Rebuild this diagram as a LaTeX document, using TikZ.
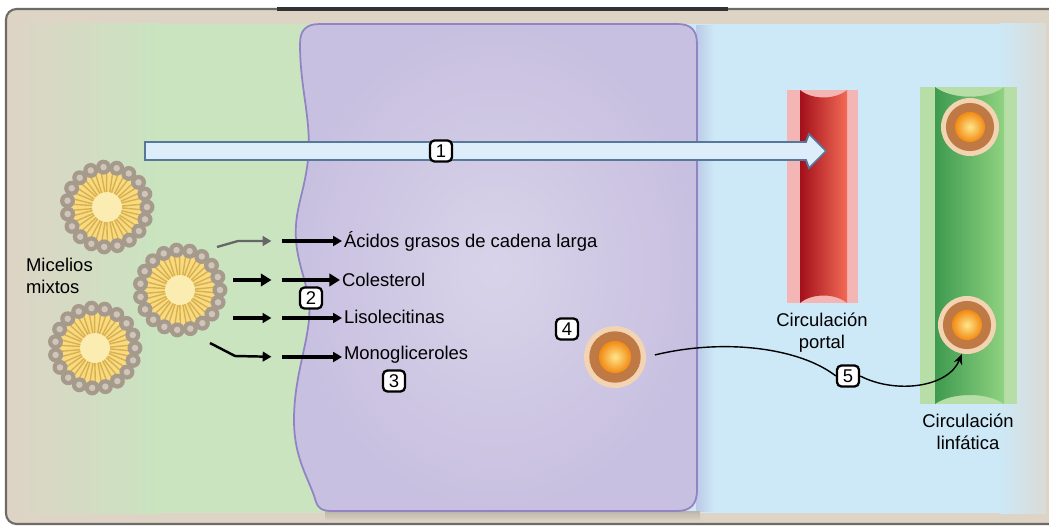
\documentclass[tikz,border=0pt]{standalone}
\usepackage{fontspec}
\setmainfont{Liberation Sans}
\usetikzlibrary{positioning,arrows.meta,calc}

\definecolor{fondo}{HTML}{DDD4C6}
\definecolor{marco}{HTML}{6E6A66}
\definecolor{verde}{HTML}{C9E4BF}
\definecolor{azul}{HTML}{CDE8F6}
\definecolor{gris}{HTML}{DADBD6}
\definecolor{celula}{HTML}{C8C0E0}
\definecolor{celborde}{HTML}{9283C4}
\definecolor{celeste}{HTML}{DDEEFA}
\definecolor{celesteborde}{HTML}{56789A}
\definecolor{rosa}{HTML}{F4B6B4}
\definecolor{rojooscuro}{HTML}{A30F1B}
\definecolor{rojo}{HTML}{F26B55}
\definecolor{verdeclaro}{HTML}{B6DEA6}
\definecolor{verdeoscuro}{HTML}{3E9A4F}
\definecolor{verdemedio}{HTML}{8FD280}
\definecolor{halo}{HTML}{F2D4B2}
\definecolor{marron}{HTML}{BE7945}
\definecolor{nucleo}{HTML}{F28A12}
\definecolor{nucleoluz}{HTML}{FFE68C}
\definecolor{amarillo}{HTML}{F8DB80}
\definecolor{amarilloclaro}{HTML}{FBEDB2}
\definecolor{colamic}{HTML}{D9B050}
\definecolor{cabeza}{HTML}{A59A8C}
\definecolor{cabezaluz}{HTML}{CFC6B9}

\begin{document}
\begin{tikzpicture}[
    x=0.02cm, y=-0.02cm,
    rotulo/.style={font=\fontsize{10.5}{12.5}\selectfont, inner sep=1pt},
    numero/.style={draw, line width=1.3pt, rounded corners=2.5pt, fill=white,
      minimum width=0.44cm, minimum height=0.42cm, inner sep=0pt,
      font=\fontsize{10.5}{12}\selectfont},
    particula/.style={circle, fill=halo, minimum size=2*#1, inner sep=0pt,
      path picture={
        \fill[marron] (path picture bounding box.center) circle (0.83*#1);
        \shade[inner color=nucleoluz, outer color=nucleo]
          (path picture bounding box.center) circle (0.52*#1);}},
    flechaa/.style={-{Triangle[length=5pt,width=5.5pt]}, shorten >=6pt},
    flechab/.style={-{Triangle[length=5pt,width=5.5pt]}, line width=1.8pt},
    curva/.style={-{Stealth[length=6pt,width=5pt]}, thick},
    cola/.style={color=colamic, line width=0.8pt},
    micela/.pic={
      \fill[amarillo] (0,0) circle (0.8cm);
      \fill[amarilloclaro] (0,0) circle (0.3cm);
      \foreach \a in {0,19,...,342}{
        \draw[cola] (\a-3.5:0.3cm) -- (\a-4.5:0.68cm);
        \draw[cola] (\a+3.5:0.3cm) -- (\a+4.5:0.68cm);
        \fill[cabeza] (\a:0.8cm) circle (0.15cm);
        \fill[cabezaluz] (\a:0.8cm) circle (0.065cm);
      }
    }
  ]

  \useasboundingbox (0,0) rectangle (1049,527);

  % frame and background bands
  \fill[white] (0,0) rectangle (1049,527);
  \draw[fill=fondo, draw=marco, line width=1.2pt, rounded corners=6pt]
    (6,9) rectangle (1070,524);
  \draw[line width=2pt, black!80] (277,9) -- (728,9);
  \shade[left color=fondo, right color=verde] (10,24) rectangle (160,513);
  \fill[verde] (159,24) rectangle (330,513);
  \fill[azul] (670,24) rectangle (1001,513);
  \shade[left color=azul, right color=gris] (1000,24) rectangle (1046,513);

  % enterocyte
  \shade[left color=azul!70!celborde, right color=azul] (696,26) rectangle (714,511);
  \shade[top color=fondo!85!black, bottom color=fondo] (325,511) rectangle (700,521);
  \shade[inner color=celula!70!white, outer color=celula, draw=celborde, line width=1pt]
    (300,44) .. controls (300,30) and (306,24) .. (320,24)
    -- (677,24) .. controls (691,24) and (697,30) .. (697,44)
    -- (697,490) .. controls (697,505) and (690,511) .. (677,511)
    -- (332,511) .. controls (322,511) and (318,508) .. (316,502)
    .. controls (310,480) and (294,460) .. (294,420)
    .. controls (294,380) and (306,350) .. (309,320)
    .. controls (312,290) and (298,270) .. (296,240)
    .. controls (294,210) and (304,195) .. (308,160)
    .. controls (312,120) and (300,90) .. (300,44) -- cycle;

  % portal vessel
  \fill[rosa] (787,90) rectangle (858,303);
  \shade[left color=rojooscuro, right color=rojo]
    (800,90) .. controls (812,100) and (835,100) .. (847,90)
    -- (847,303) .. controls (835,293) and (812,293) .. (800,303) -- cycle;
  \coordinate (portal) at (822,303);

  % lymphatic vessel
  \fill[verdeclaro] (920,87) rectangle (1017,404);
  \shade[left color=verdeoscuro, right color=verdemedio]
    (935,87) .. controls (952,100) and (988,100) .. (1004,87)
    -- (1004,404) .. controls (988,392) and (952,392) .. (935,404) -- cycle;
  \coordinate (linfa) at (968,404);

  % arrow 1
  \coordinate (ini1) at (145,151);
  \draw[fill=celeste, draw=celesteborde, line width=1pt]
    (ini1) -- ++(0,-9) -- ++(661,0) -- ++(3,-8) -- ++(17,17)
    -- ++(-17,17) -- ++(-3,-8) -- ++(-661,0) -- cycle;

  % chylomicrons
  \node[particula=0.62cm] (p4) at (615,357) {};
  \node[particula=0.58cm] (p5) at (970,127) {};
  \node[particula=0.58cm] (p6) at (967,325) {};

  % mixed micelles
  \pic at (107,207) {micela};
  \pic at (180,290) {micela};
  \pic at (95,348) {micela};
  \node[rotulo, align=left, anchor=west] (micelas) at (24,276) {Micelios\\mixtos};

  % products
  \node[rotulo, anchor=west, text height=1.6ex, text depth=.3ex] (acidos) at (342,241) {Ácidos grasos de cadena larga};
  \node[rotulo, anchor=west, text height=1.6ex, text depth=.3ex] (colest) at (340,280) {Colesterol};
  \node[rotulo, anchor=west, text height=1.6ex, text depth=.3ex] (lisol) at (342,317) {Lisolecitinas};
  \node[rotulo, anchor=west, text height=1.6ex, text depth=.3ex] (monog) at (342,353) {Monogliceroles};

  \coordinate (a1) at (217,247);
  \coordinate (a2) at (233,280);
  \coordinate (a3) at (233,318);
  \coordinate (a4) at (210,343);
  \coordinate (b1) at (282,241);
  \coordinate (b2) at (282,280);
  \coordinate (b3) at (282,318);
  \coordinate (b4) at (282,357);

  \draw[flechaa, line width=1.3pt, black!60] (a1) -- ++(21,-6) -- (b1);
  \draw[flechaa, line width=2.4pt, -{Triangle[length=6pt,width=7pt]}] (a2) -- (b2);
  \draw[flechaa, line width=1.8pt] (a3) -- (b3);
  \draw[flechaa, line width=1.4pt] (a4) -- ++(25,13) -- (b4);

  \draw[flechab] (b1) -- (acidos.west);
  \draw[flechab, line width=2.4pt, -{Triangle[length=6pt,width=7pt]}] (b2) -- (colest.west);
  \draw[flechab] (b3) -- (b3 -| lisol.west);
  \draw[flechab] (b4) -- (b4 -| monog.west);

  % vessel labels
  \node[rotulo, align=center, below=0.15cm of portal] (lportal) {Circulación\\portal};
  \node[rotulo, align=center, below=0.15cm of linfa] (llinfa) {Circulación\\linfática};

  % step numbers
  \node[numero] (n1) at (441,151) {1};
  \node[numero] (n2) at (311,298) {2};
  \node[numero] (n3) at (394,381) {3};
  \node[numero] (n4) at (567,329) {4};
  \node[numero] (n5) at (848,376) {5};

  \draw[thick, shorten <=5pt] (p4.east) .. controls (725,338) and (800,348) .. (n5.west);
  \draw[curva] (n5.east) .. controls (895,394) and (948,388) .. (p6.-100);

\end{tikzpicture}
\end{document}
